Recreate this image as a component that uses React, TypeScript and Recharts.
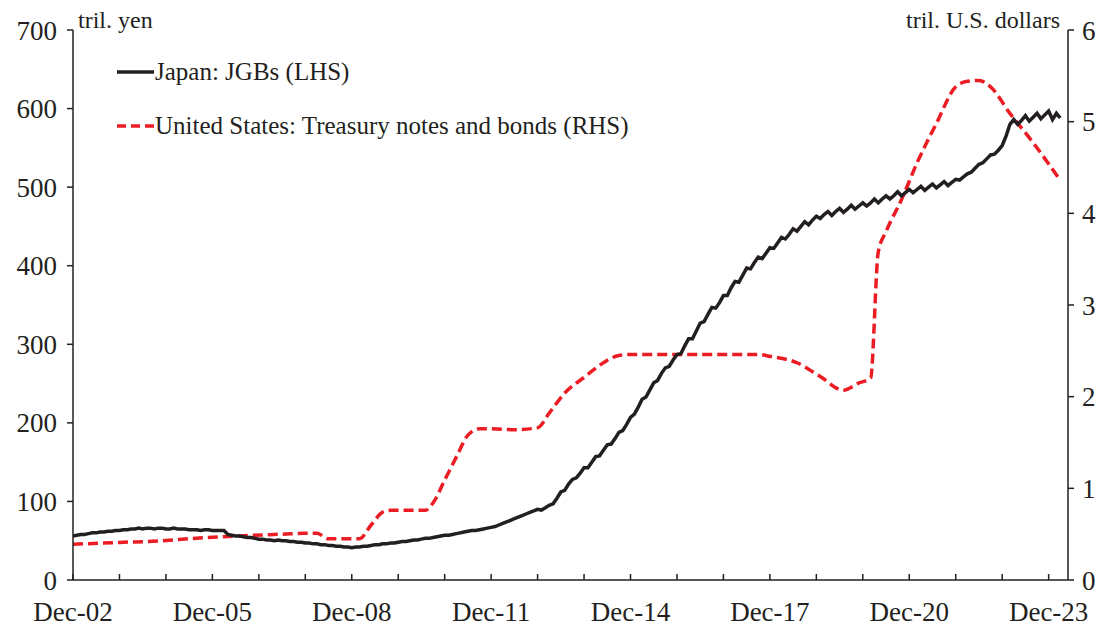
import { Line, LineChart, XAxis, YAxis } from 'recharts'

// months counted from Dec-02 (0) to Mar-24 (255)
const xTickMonths = [0, 12, 24, 36, 48, 60, 72, 84, 96, 108, 120, 132, 144, 156, 168, 180, 192, 204, 216, 228, 240, 252]
const xTickLabels = [
  'Dec-02', '', '', 'Dec-05', '', '', 'Dec-08', '', '', 'Dec-11', '', '',
  'Dec-14', '', '', 'Dec-17', '', '', 'Dec-20', '', '', 'Dec-23',
]
const leftTicks = [0, 100, 200, 300, 400, 500, 600, 700]
const rightTicks = [0, 1, 2, 3, 4, 5, 6]

// Japan: JGBs, tril. yen, monthly from Dec-02
const jgbValues = [
  56,
  57, 58, 58, 59, 60, 60, 61, 61, 62, 62, 63, 63,
  64, 64, 65, 65, 66, 65, 66, 66, 65, 66, 66, 65,
  65, 66, 65, 65, 65, 64, 64, 64, 63, 64, 64, 63,
  63, 63, 63, 58, 57, 56, 56, 55, 54, 54, 53, 52,
  52, 51, 51, 50, 51, 50, 50, 49, 49, 48, 48, 47,
  47, 46, 46, 45, 45, 44, 44, 43, 43, 42, 42, 41,
  42, 42, 43, 43, 44, 45, 45, 46, 46, 47, 47, 48,
  49, 49, 50, 51, 51, 52, 53, 53, 54, 55, 56, 57,
  57, 58, 59, 60, 61, 62, 63, 63, 64, 65, 66, 67,
  68, 70, 72, 74, 76, 78, 80, 82, 84, 86, 88, 90,
  89, 92, 95, 97, 104, 112, 114, 122, 128, 130, 136, 143,
  143, 150, 157, 158, 165, 172, 173, 180, 188, 190, 198, 207,
  211, 220, 230, 233, 242, 251, 254, 263, 270, 272, 280, 287,
  288, 298, 307, 307, 317, 327, 329, 338, 347, 346, 353, 362,
  362, 372, 380, 379, 388, 397, 396, 404, 411, 409, 416, 423,
  422, 429, 436, 434, 440, 447, 444, 450, 456, 452, 458, 463,
  460, 465, 469, 464, 469, 473, 468, 472, 477, 472, 476, 480,
  476, 480, 485, 480, 485, 489, 485, 489, 494, 489, 493, 497,
  493, 497, 501, 496, 500, 504, 499, 503, 507, 502, 506, 510,
  509, 513, 517, 519, 524, 529, 531, 536, 541, 542, 547, 553,
  565, 580, 586, 580, 585, 591, 584, 589, 594, 587, 592, 597,
  586, 594, 588,
]

// United States: Treasury notes and bonds, tril. U.S. dollars
const usMonths = [
  0, 12, 24, 30, 42, 54, 60, 63, 66, 74, 77, 80, 82, 91, 93, 96, 99, 102, 105, 108,
  114, 120, 123, 127, 132, 137, 141, 144, 160, 177, 180, 187, 193, 199, 203, 206,
  208, 210, 214, 218, 223, 228, 231, 234, 237, 242, 248, 255,
]
const usValues = [
  0.39, 0.41, 0.43, 0.45, 0.48, 0.5, 0.51, 0.51, 0.45, 0.45, 0.6, 0.74, 0.76, 0.76, 0.84, 1.09, 1.34, 1.58, 1.65, 1.65,
  1.64, 1.66, 1.82, 2.04, 2.21, 2.37, 2.45, 2.46, 2.46, 2.46, 2.44, 2.37, 2.22, 2.07, 2.15, 2.2,
  3.58, 3.8, 4.15, 4.55, 4.98, 5.38, 5.44, 5.45, 5.38, 5.09, 4.77, 4.36,
]

const jgbData = jgbValues.map((v, i) => ({ m: i, jgb: v }))
const usData = usMonths.map((m, i) => ({ m, us: usValues[i] }))

const INK = '#231f20'
const RED = '#ec1c24'
const W = 1093
const H = 618
const PLOT_BOTTOM = 572

function XTick({ x, payload }: { x?: number; payload?: { value: number } }) {
  const i = xTickMonths.indexOf(payload?.value ?? -1)
  const label = i >= 0 ? xTickLabels[i] : ''
  return (
    <g>
      <line x1={x} x2={x} y1={PLOT_BOTTOM} y2={PLOT_BOTTOM - 6} stroke={INK} strokeWidth={1.5} />
      {label && (
        <text x={x} y={PLOT_BOTTOM + 41} textAnchor="middle" fill={INK} fontSize={27}>
          {label}
        </text>
      )}
    </g>
  )
}

export default function App() {
  const font = '"Liberation Serif", "Times New Roman", serif'
  return (
    <div style={{ position: 'relative', width: W, height: H, fontFamily: font, color: INK }}>
      <LineChart width={W} height={H} margin={{ top: 22, right: 0, left: 0, bottom: 0 }}>
        <XAxis
          dataKey="m"
          type="number"
          domain={[0, 257]}
          ticks={xTickMonths}
          interval={0}
          height={46}
          tick={<XTick />}
          tickLine={false}
          axisLine={{ stroke: INK, strokeWidth: 1.5 }}
          allowDataOverflow
        />
        <YAxis
          yAxisId="left"
          domain={[0, 700]}
          ticks={leftTicks}
          width={65}
          tickSize={6}
          tickMargin={10}
          tick={{ fontSize: 27, fill: INK }}
          tickLine={{ stroke: INK, strokeWidth: 1.5 }}
          axisLine={{ stroke: INK, strokeWidth: 1.5 }}
        />
        <YAxis
          yAxisId="right"
          orientation="right"
          domain={[0, 6]}
          ticks={rightTicks}
          width={33}
          tickSize={6}
          tickMargin={8}
          tick={{ fontSize: 27, fill: INK }}
          tickLine={{ stroke: INK, strokeWidth: 1.5 }}
          axisLine={{ stroke: INK, strokeWidth: 1.5 }}
        />
        <Line
          yAxisId="right"
          data={usData}
          dataKey="us"
          type="monotone"
          stroke={RED}
          strokeWidth={3.5}
          strokeDasharray="10 5"
          dot={false}
          activeDot={false}
          isAnimationActive={false}
        />
        <Line
          yAxisId="left"
          data={jgbData}
          dataKey="jgb"
          type="linear"
          stroke={INK}
          strokeWidth={3.5}
          dot={false}
          activeDot={false}
          isAnimationActive={false}
        />
      </LineChart>

      <div style={{ position: 'absolute', left: 70, top: 0, fontSize: 24, lineHeight: '24px' }}>tril. yen</div>
      <div style={{ position: 'absolute', right: 41, top: 0, fontSize: 24, lineHeight: '24px' }}>tril. U.S. dollars</div>

      <div style={{ position: 'absolute', left: 109, top: 49, fontSize: 25 }}>
        <div style={{ display: 'flex', alignItems: 'center', height: 30 }}>
          <svg width={37} height={6}>
            <line x1={0} x2={37} y1={3} y2={3} stroke={INK} strokeWidth={3.5} />
          </svg>
          <span style={{ marginLeft: 1 }}>Japan: JGBs (LHS)</span>
        </div>
        <div style={{ display: 'flex', alignItems: 'center', height: 30, marginTop: 24 }}>
          <svg width={37} height={6}>
            <line x1={0} x2={37} y1={3} y2={3} stroke={RED} strokeWidth={3.5} strokeDasharray="9 5" />
          </svg>
          <span style={{ marginLeft: 1 }}>United States: Treasury notes and bonds (RHS)</span>
        </div>
      </div>
    </div>
  )
}
